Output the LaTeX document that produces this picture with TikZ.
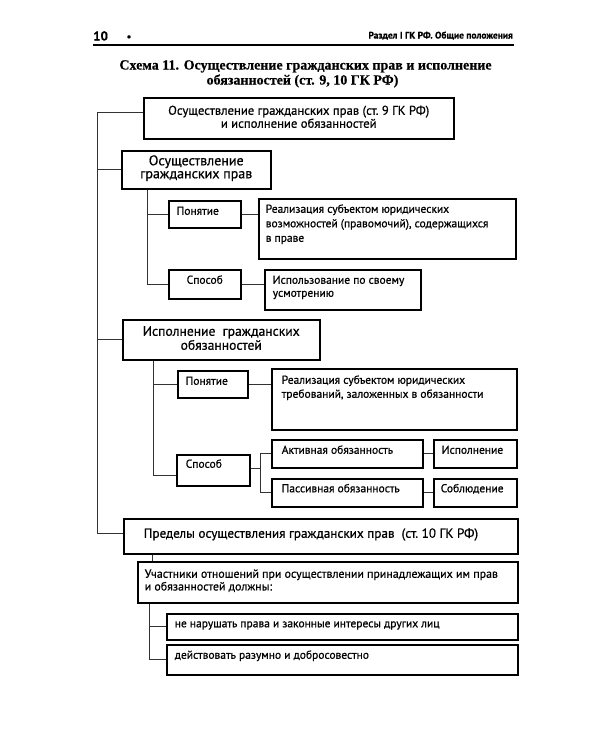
\documentclass[tikz,border=0pt]{standalone}
\usepackage{fontspec}
\setmainfont{PT Sans}[FakeBold=0.6]
\newfontfamily\titlefont{Liberation Serif}[FakeBold=0.3]
\newcommand\fz[2]{\fontsize{#1}{#2}\selectfont}
\newcommand\lft[1]{\leftskip=#1pt\rightskip=0pt plus 1fil\relax}
\newcommand\bx[8]{\node[box] (#1) at (#2,#3) {\parbox[c][#5pt][t]{#4pt}{#6\rule{0pt}{#7pt}#8}};}
\begin{document}
\begin{tikzpicture}[x=1pt,y=-1pt,
  box/.style={draw, line width=1.5pt, inner sep=0pt, anchor=north west},
  conn/.style={line width=0.6pt, draw=black!80}]
\useasboundingbox[fill=white] (0,0) rectangle (600,750);
% header
\node[anchor=base west, inner sep=0pt, font=\bfseries\fontsize{13}{14}\selectfont] (pg) at (93,40.5) {10};
\node[anchor=base, inner sep=0pt, font=\bfseries\fontsize{10}{12}\selectfont] (bul) at (129,40) {•};
\node[anchor=base east, inner sep=0pt, font=\bfseries\fontsize{9.5}{11}\selectfont] (hd) at (513,38.5) {Раздел I ГК РФ. Общие положения};
\draw[line width=1.4pt] (93,45) -- (514,45);
% title
\node[anchor=base, inner sep=0pt, font=\titlefont\bfseries\fontsize{14}{14}\selectfont] (t1) at (305.5,69.5) {Схема 11. Осуществление гражданских прав и исполнение};
\node[anchor=base, inner sep=0pt, font=\titlefont\bfseries\fontsize{14}{14}\selectfont] (t2) at (302.5,84.5) {обязанностей (ст. 9, 10 ГК РФ)};
% boxes
\bx{b1}{143}{97}{310}{41}{\fz{12.7}{13}\centering}{17}{Осуществление гражданских прав (ст.~9 ГК РФ)\\и исполнение обязанностей}
\bx{b2}{121}{150}{149}{38}{\fz{14}{13}\centering}{14.5}{Осуществление\\гражданских прав}
\bx{p1}{168}{200}{72}{27}{\fz{11.5}{14}\lft{8}}{14}{Понятие}
\bx{r1}{258}{198}{257}{60}{\fz{11.5}{14.5}\lft{7}}{14}{Реализация субъектом юридических\\возможностей (правомочий), содержащихся\\в праве}
\bx{s1}{168}{269}{72}{29}{\fz{11.5}{14}\centering}{14}{Способ}
\bx{u1}{264}{269}{156}{40}{\fz{11.5}{13}\lft{8}}{14}{Использование по своему\\усмотрению}
\bx{b3}{122}{319}{197}{40}{\fz{13.6}{14}\centering}{16}{Исполнение\ \ гражданских\\обязанностей}
\bx{p2}{177}{370}{70}{27}{\fz{11.5}{14}\lft{8}}{14}{Понятие}
\bx{r2}{271}{368}{245}{61}{\fz{11.5}{14}\lft{10}}{15}{Реализация субъектом юридических\\требований, заложенных в обязанности}
\bx{s2}{176}{454}{73}{31}{\fz{11.5}{14}\lft{9}}{13}{Способ}
\bx{akt}{271}{439}{151}{28}{\fz{11.5}{14}\lft{10}}{14}{Активная обязанность}
\bx{isp}{433}{439}{83}{28}{\fz{11.5}{14}\lft{8}}{14}{Исполнение}
\bx{pas}{271}{478}{151}{28}{\fz{11.5}{14}\lft{10}}{13.5}{Пассивная обязанность}
\bx{sob}{433}{478}{83}{28}{\fz{11.5}{14}\lft{7}}{13.5}{Соблюдение}
\bx{b4}{123}{518}{394}{35}{\fz{13.2}{14}\lft{20}}{19}{Пределы осуществления гражданских прав \ (ст.~10 ГК РФ)}
\bx{uch}{137}{561}{380}{41}{\fz{11.9}{12.7}\lft{7}}{16}{Участники отношений при осуществлении принадлежащих им прав\\и обязанностей должны:}
\bx{d1}{166}{613}{351}{26}{\fz{11.5}{14}\lft{8}}{13.5}{не нарушать права и законные интересы других лиц}
\bx{d2}{166}{644}{351}{30}{\fz{11.5}{14}\lft{8}}{14}{действовать разумно и добросовестно}
% connectors
\coordinate (T) at (97,0);
\coordinate (c1) at ([yshift=6pt]b1.west);
\coordinate (c4) at ([yshift=3pt]b4.west);
\draw[conn] (c1) -- (c1 -| T) -- (c4 -| T) -- (c4);
\draw[conn] (b2.west -| T) -- (b2.west);
\draw[conn] (b3.west -| T) -- (b3.west);
\coordinate (A) at (147,0);
\draw[conn] (b2.south -| A) |- (s1.west);
\draw[conn] (p1.west -| A) -- (p1.west);
\draw[conn] (p1.east) -- (p1.east -| r1.west);
\draw[conn] (s1.east) -- (s1.east -| u1.west);
\coordinate (B) at (153,0);
\coordinate (s2w) at ([yshift=-5pt]s2.west);
\draw[conn] (b3.south -| B) |- (s2w);
\draw[conn] (p2.west -| B) -- (p2.west);
\draw[conn] (p2.east) -- (p2.east -| r2.west);
\coordinate (J) at (260,0);
\coordinate (s2e) at ([yshift=2pt]s2.east);
\draw[conn] (s2e) -- (s2e -| J);
\draw[conn] (akt.west) -- (akt.west -| J) -- (pas.west -| J) -- (pas.west);
\draw[conn] (akt.east) -- (isp.west);
\draw[conn] (pas.east) -- (sob.west);
\coordinate (C) at (152,0);
\draw[conn] (b4.south -| C) -- (uch.north -| C);
\coordinate (D) at (149,0);
\draw[conn] (uch.south -| D) |- (d2.west);
\draw[conn] (d1.west -| D) -- (d1.west);
\end{tikzpicture}
\end{document}
